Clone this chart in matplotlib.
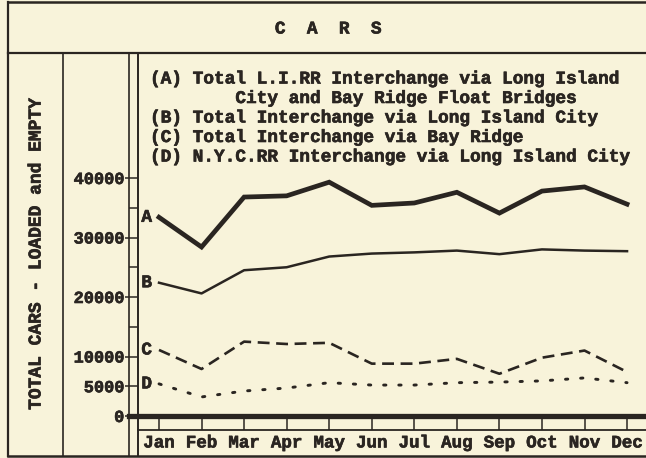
import matplotlib
matplotlib.use("Agg")
import matplotlib.pyplot as plt
import matplotlib.patheffects as pe
from matplotlib.lines import Line2D

months = ["Jan", "Feb", "Mar", "Apr", "May", "Jun", "Jul", "Aug", "Sep", "Oct", "Nov", "Dec"]

# cars per month
a_total_li_rr = [33400, 28400, 36800, 37000, 39300, 35400, 35800, 37600, 34100, 37800, 38500, 35600]
b_long_island_city = [22400, 20600, 24500, 25000, 26800, 27300, 27500, 27800, 27200, 28000, 27800, 27700]
c_bay_ridge = [11100, 7900, 12500, 12100, 12300, 8800, 8800, 9600, 7100, 9800, 11000, 7400]
d_nyc_rr = [5400, 3200, 4200, 4700, 5600, 5200, 5200, 5600, 5700, 5900, 6400, 5600]

legend_lines = [
    "(A) Total L.I.RR Interchange via Long Island",
    "        City and Bay Ridge Float Bridges",
    "(B) Total Interchange via Long Island City",
    "(C) Total Interchange via Bay Ridge",
    "(D) N.Y.C.RR Interchange via Long Island City",
]

ink = "#2a2521"
paper = "#f8f3da"
W, H = 646, 458
font = "Liberation Mono"
# typewriter ink is heavier than the font, thicken it a bit
heavy = [pe.withStroke(linewidth=0.45, foreground=ink)]


def px(x, y):
    # pixel coords (from top-left) -> figure fraction
    return x / W, 1 - y / H


def hline(fig, y, x0, x1, lw=1.5):
    (a, b), (c, d) = px(x0, y), px(x1, y)
    fig.add_artist(Line2D([a, c], [b, d], color=ink, lw=lw, transform=fig.transFigure))


def vline(fig, x, y0, y1, lw=1.5):
    (a, b), (c, d) = px(x, y0), px(x, y1)
    fig.add_artist(Line2D([a, c], [b, d], color=ink, lw=lw, transform=fig.transFigure))


fig = plt.figure(figsize=(W / 100, H / 100), dpi=100)
fig.patch.set_facecolor(paper)

# frame of the table
hline(fig, 2, 8, W, lw=1.8)
hline(fig, 53, 8, W, lw=1.6)
hline(fig, 456, 8, W, lw=1.8)
vline(fig, 8, 2, 456, lw=1.6)
vline(fig, 63, 53, 456, lw=1.2)
vline(fig, 129, 53, 456, lw=1.2)
vline(fig, 138, 53, 456, lw=1.4)
hline(fig, 416, 129, W, lw=3.8)
hline(fig, 430, 138, W, lw=1.3)

fig.text(*px(328, 29), "C  A  R  S", family=font, weight="bold", fontsize=12.8,
         color=ink, ha="center", va="center", path_effects=heavy)
fig.text(*px(36, 254), "TOTAL CARS - LOADED and EMPTY", family=font, weight="bold",
         fontsize=12.9, color=ink, ha="center", va="center", rotation=90, path_effects=heavy)

ax = fig.add_axes([138 / W, (H - 416) / H, (W - 138) / W, (416 - 53) / H])
ax.set_facecolor("none")
for s in ax.spines.values():
    s.set_visible(False)

x = list(range(12))
ax.plot(x, a_total_li_rr, color=ink, lw=3.4, solid_joinstyle="miter")
ax.plot(x, b_long_island_city, color=ink, lw=1.8)
ax.plot(x, c_bay_ridge, color=ink, lw=1.9, dashes=(4.5, 2.5))
ax.plot(x, d_nyc_rr, color=ink, lw=2.1, dashes=(0.8, 4.4), dash_capstyle="round")

for lab, ser in zip("ABCD", [a_total_li_rr, b_long_island_city, c_bay_ridge, d_nyc_rr]):
    ax.text(-0.29, ser[0], lab, family=font, weight="bold", fontsize=12.8,
            color=ink, ha="center", va="center", path_effects=heavy)

ax.set_xlim((138 - 159) / 42.55, (W - 159) / 42.55)
ax.set_ylim(0, 363 / 5.95 * 1000)

ax.set_xticks(x)
ax.set_xticklabels(months, family=font, weight="bold", fontsize=12.6, color=ink)
ax.tick_params(axis="x", direction="out", length=10, width=1.1, color=ink, pad=4)

ax.set_yticks([0, 5000, 10000, 20000, 30000, 40000])
ax.set_yticklabels(["0", "5000", "10000", "20000", "30000", "40000"],
                   family=font, weight="bold", fontsize=12.2, color=ink)
ax.set_yticks([15000, 25000, 35000], minor=True)
ax.tick_params(axis="y", which="major", direction="out", length=9.4, width=1.1, color=ink, pad=0.5)
ax.tick_params(axis="y", which="minor", direction="out", length=6.5, width=1.1, color=ink)
for t in ax.get_xticklabels() + ax.get_yticklabels():
    t.set_path_effects(heavy)

ty = 79
for line in legend_lines:
    fig.text(*px(150, ty), line, family=font, weight="bold", fontsize=12.8,
             color=ink, ha="left", va="center", path_effects=heavy)
    ty += 19.5

fig.savefig("out.png", dpi=100, facecolor=paper)
